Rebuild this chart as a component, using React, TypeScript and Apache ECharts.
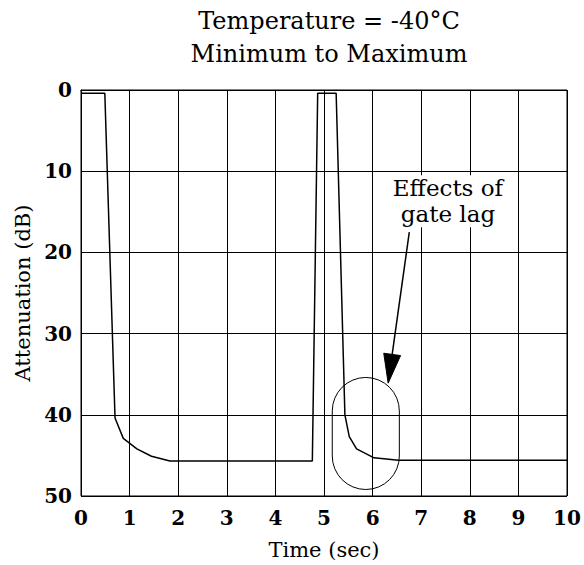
import React, { useEffect, useRef } from "react";
import * as echarts from "echarts";

const titleLines = ["Temperature = -40°C", "Minimum to Maximum"];
const xAxisName = "Time (sec)";
const yAxisName = "Attenuation (dB)";
const timeSec = [0, 0.49, 0.7, 0.87, 1.15, 1.45, 1.83, 4.76, 4.87, 5.25, 5.43, 5.52, 5.67, 6.03, 6.53, 10];
const attenuationDb = [0.4, 0.4, 40.4, 42.9, 44.2, 45.1, 45.7, 45.7, 0.4, 0.4, 40.0, 42.7, 44.2, 45.3, 45.6, 45.6];
// annotation: highlighted region [x1, y1, x2, y2], arrow [fromX, fromY, toX, toY], label position
const highlightBox = [5.17, 35.4, 6.55, 49.2];
const arrowLine = [6.755, 17.5, 6.32, 36.1];
const noteText = "Effects of\ngate lag";
const notePos = [7.55, 13.7];

const FONT = "DejaVu Serif";

export default function App() {
  const ref = useRef<HTMLDivElement>(null);
  useEffect(() => {
    if (!ref.current) return;
    const chart = echarts.init(ref.current, undefined, { renderer: "svg" });
    const lineData = timeSec.map((t, i) => [t, attenuationDb[i]]);
    chart.setOption({
      animation: false,
      backgroundColor: "#fff",
      title: {
        text: titleLines.join("\n"),
        left: 324,
        textAlign: "center",
        top: -1,
        textStyle: { fontFamily: FONT, fontSize: 24, fontWeight: "normal", color: "#000", lineHeight: 33 },
      },
      grid: {
        left: 81, top: 90, width: 486, height: 407,
        show: true, borderColor: "#000", borderWidth: 1, backgroundColor: "transparent",
      },
      xAxis: {
        type: "value", min: 0, max: 10, interval: 1,
        name: xAxisName, nameLocation: "middle", nameGap: 43,
        nameTextStyle: { fontFamily: FONT, fontSize: 21, color: "#000" },
        axisLine: { show: true, lineStyle: { color: "#000", width: 1 } },
        axisTick: { show: false },
        splitLine: { show: true, lineStyle: { color: "#000", width: 1 } },
        axisLabel: { fontFamily: FONT, fontSize: 20, fontWeight: "bold", color: "#000", margin: 12 },
      },
      yAxis: {
        type: "value", min: 0, max: 50, interval: 10, inverse: true,
        name: yAxisName, nameLocation: "middle", nameGap: 46,
        nameTextStyle: { fontFamily: FONT, fontSize: 21, color: "#000" },
        axisLine: { show: true, lineStyle: { color: "#000", width: 1 } },
        axisTick: { show: false },
        splitLine: { show: true, lineStyle: { color: "#000", width: 1 } },
        axisLabel: { fontFamily: FONT, fontSize: 20, fontWeight: "bold", color: "#000", margin: 9 },
      },
      series: [
        {
          type: "line",
          data: lineData,
          showSymbol: false,
          symbol: "none",
          lineStyle: { color: "#000", width: 1.5 },
          z: 3,
        },
        {
          type: "custom",
          data: [[0]],
          clip: false,
          z: 4,
          renderItem: (_params: any, api: any) => {
            const p1 = api.coord([highlightBox[0], highlightBox[1]]);
            const p2 = api.coord([highlightBox[2], highlightBox[3]]);
            const bx = Math.min(p1[0], p2[0]);
            const by = Math.min(p1[1], p2[1]);
            const bw = Math.abs(p2[0] - p1[0]);
            const bh = Math.abs(p2[1] - p1[1]);
            const s = api.coord([arrowLine[0], arrowLine[1]]);
            const t = api.coord([arrowLine[2], arrowLine[3]]);
            const dx = t[0] - s[0];
            const dy = t[1] - s[1];
            const len = Math.sqrt(dx * dx + dy * dy);
            const ux = dx / len;
            const uy = dy / len;
            const headLen = 29;
            const headHalf = 8.5;
            const baseX = t[0] - ux * headLen;
            const baseY = t[1] - uy * headLen;
            const nx = -uy;
            const ny = ux;
            const tp = api.coord([notePos[0], notePos[1]]);
            return {
              type: "group",
              children: [
                {
                  type: "rect",
                  shape: { x: bx, y: by, width: bw, height: bh, r: bw / 2 },
                  style: { fill: "none", stroke: "#000", lineWidth: 1 },
                },
                {
                  type: "line",
                  shape: { x1: s[0], y1: s[1], x2: baseX, y2: baseY },
                  style: { stroke: "#000", lineWidth: 1.5 },
                },
                {
                  type: "polygon",
                  shape: {
                    points: [
                      [t[0], t[1]],
                      [baseX + nx * headHalf, baseY + ny * headHalf],
                      [baseX - nx * headHalf, baseY - ny * headHalf],
                    ],
                  },
                  style: { fill: "#000", stroke: "#000" },
                },
                {
                  type: "text",
                  x: tp[0],
                  y: tp[1],
                  style: {
                    text: noteText,
                    fontFamily: FONT,
                    fontSize: 23,
                    lineHeight: 26,
                    fill: "#000",
                    align: "center",
                    verticalAlign: "middle",
                    backgroundColor: "#fff",
                    padding: [0, 2],
                  },
                },
              ],
            };
          },
        },
      ],
    });
    return () => chart.dispose();
  }, []);
  return <div ref={ref} style={{ position: "absolute", left: 0, top: 0, width: 584, height: 565 }} />;
}
